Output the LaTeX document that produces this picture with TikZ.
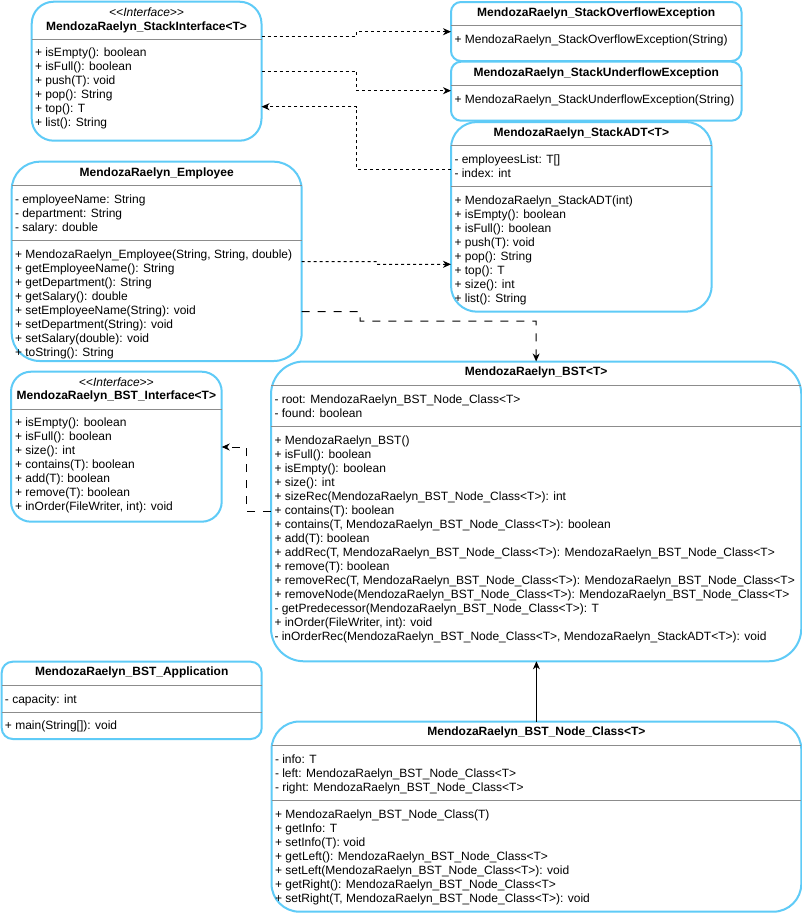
\documentclass[tikz,border=0pt]{standalone}
\usepackage{fontspec}
\setmainfont{Liberation Sans}
\usetikzlibrary{arrows.meta}
\definecolor{umlblue}{HTML}{5FCBF7}
\definecolor{sepgray}{HTML}{8C8C8C}
\tikzset{
  umlbox/.style={draw=umlblue, line width=2pt, fill=white, inner sep=0pt, outer sep=0pt},
  sepline/.style={draw=sepgray, line width=0.9pt},
  txt/.style={inner sep=0pt, outer sep=0pt, font=\fontsize{12}{14}\selectfont, anchor=base west},
  ttl/.style={inner sep=0pt, outer sep=0pt, font=\fontsize{12}{14}\selectfont\bfseries, anchor=base},
  stereo/.style={inner sep=0pt, outer sep=0pt, font=\fontsize{12}{14}\selectfont\itshape, anchor=base},
  tipa/.style={-{Stealth[length=8pt,width=7pt,inset=2.5pt]}},
  dep/.style={draw=black, line width=1pt, dash pattern=on 3pt off 3pt, tipa},
  ldep/.style={draw=black, line width=1pt, dash pattern=on 8pt off 8pt, tipa},
  assoc/.style={draw=black, line width=1pt, tipa}
}
\newcommand{\umllines}[4]{\foreach \t [count=\i] in {#4}{\node[txt] (#1-\i) at ({#2},{#3+14*(\i-1)}) {\t};}}
\begin{document}
\begin{tikzpicture}[x=1pt,y=-1pt]
\useasboundingbox (0,0) rectangle (802,913);
\fill[white] (0,0) rectangle (802,913);

% ---------- boxes ----------
\node[umlbox, rounded corners=22pt, minimum width=229.8pt, minimum height=139pt] (si) at (146.6,71.2) {};
\node[umlbox, rounded corners=10pt, minimum width=290.5pt, minimum height=59pt] (ov) at (596.25,31.5) {};
\node[umlbox, rounded corners=10pt, minimum width=290.5pt, minimum height=59pt] (un) at (596.25,91.2) {};
\node[umlbox, rounded corners=26pt, minimum width=260.7pt, minimum height=189.7pt] (adt) at (581.35,216.85) {};
\node[umlbox, rounded corners=28pt, minimum width=290pt, minimum height=199.3pt] (emp) at (156.7,261.35) {};
\node[umlbox, rounded corners=20pt, minimum width=210.7pt, minimum height=150pt] (bsti) at (116.35,446.7) {};
\node[umlbox, rounded corners=33pt, minimum width=530.3pt, minimum height=299.8pt] (bst) at (536.15,511.4) {};
\node[umlbox, rounded corners=11pt, minimum width=260pt, minimum height=77.3pt] (app) at (131.7,700.35) {};
\node[umlbox, rounded corners=28pt, minimum width=529.8pt, minimum height=190.2pt] (nc) at (536.4,816.6) {};

% ---------- separators ----------
\draw[sepline] (31.7,39.3) -- (261.5,39.3);
\draw[sepline] (451,25) -- (741.5,25);
\draw[sepline] (451,85.3) -- (741.5,85.3);
\draw[sepline] (451,145.7) -- (711.7,145.7);
\draw[sepline] (451,186.7) -- (711.7,186.7);
\draw[sepline] (11.7,185) -- (301.7,185);
\draw[sepline] (11.7,240) -- (301.7,240);
\draw[sepline] (11,409.3) -- (221.7,409.3);
\draw[sepline] (271,385.7) -- (801.3,385.7);
\draw[sepline] (271,426) -- (801.3,426);
\draw[sepline] (1.7,685.7) -- (261.7,685.7);
\draw[sepline] (1.7,712.3) -- (261.7,712.3);
\draw[sepline] (271.5,745) -- (801.3,745);
\draw[sepline] (271.5,800) -- (801.3,800);

% ---------- StackInterface ----------
\node[stereo] (si-s) at (146.6,16.7) {<{}<Interface>{}>};
\node[ttl] (si-t) at (146.6,30.7) {MendozaRaelyn\_StackInterface<T>};
\umllines{si-m}{35}{56.7}{{+ isEmpty(): boolean},{+ isFull(): boolean},{+ push(T): void},{+ pop(): String},{+ top(): T},{+ list(): String}}

% ---------- Overflow / Underflow ----------
\node[ttl] (ov-t) at (596.25,16) {MendozaRaelyn\_StackOverflowException};
\node[txt] (ov-m) at (454.5,43.3) {+ MendozaRaelyn\_StackOverflowException(String)};
\node[ttl] (un-t) at (596.25,76) {MendozaRaelyn\_StackUnderflowException};
\node[txt] (un-m) at (454.5,103.3) {+ MendozaRaelyn\_StackUnderflowException(String)};

% ---------- StackADT ----------
\node[ttl] (adt-t) at (581.35,136) {MendozaRaelyn\_StackADT<T>};
\umllines{adt-f}{454.5}{163.5}{{- employeesList: T[]},{- index: int}}
\umllines{adt-m}{454.5}{204}{{+ MendozaRaelyn\_StackADT(int)},{+ isEmpty(): boolean},{+ isFull(): boolean},{+ push(T): void},{+ pop(): String},{+ top(): T},{+ size(): int},{+ list(): String}}

% ---------- Employee ----------
\node[ttl] (emp-t) at (156.7,176) {MendozaRaelyn\_Employee};
\umllines{emp-f}{15}{203}{{- employeeName: String},{- department: String},{- salary: double}}
\umllines{emp-m}{15}{258.3}{{+ MendozaRaelyn\_Employee(String, String, double)},{+ getEmployeeName(): String},{+ getDepartment(): String},{+ getSalary(): double},{+ setEmployeeName(String): void},{+ setDepartment(String): void},{+ setSalary(double): void},{+ toString(): String}}

% ---------- BST_Interface ----------
\node[stereo] (bsti-s) at (116.35,386) {<{}<Interface>{}>};
\node[ttl] (bsti-t) at (116.35,399.7) {MendozaRaelyn\_BST\_Interface<T>};
\umllines{bsti-m}{15}{426.7}{{+ isEmpty(): boolean},{+ isFull(): boolean},{+ size(): int},{+ contains(T): boolean},{+ add(T): boolean},{+ remove(T): boolean},{+ inOrder(FileWriter, int): void}}

% ---------- BST ----------
\node[ttl] (bst-t) at (536.15,375.7) {MendozaRaelyn\_BST<T>};
\umllines{bst-f}{274.5}{403}{{- root: MendozaRaelyn\_BST\_Node\_Class<T>},{- found: boolean}}
\umllines{bst-m}{274.5}{444}{{+ MendozaRaelyn\_BST()},{+ isFull(): boolean},{+ isEmpty(): boolean},{+ size(): int},{+ sizeRec(MendozaRaelyn\_BST\_Node\_Class<T>): int},{+ contains(T): boolean},{+ contains(T, MendozaRaelyn\_BST\_Node\_Class<T>): boolean},{+ add(T): boolean},{+ addRec(T, MendozaRaelyn\_BST\_Node\_Class<T>): MendozaRaelyn\_BST\_Node\_Class<T>},{+ remove(T): boolean},{+ removeRec(T, MendozaRaelyn\_BST\_Node\_Class<T>): MendozaRaelyn\_BST\_Node\_Class<T>},{+ removeNode(MendozaRaelyn\_BST\_Node\_Class<T>): MendozaRaelyn\_BST\_Node\_Class<T>},{- getPredecessor(MendozaRaelyn\_BST\_Node\_Class<T>): T},{+ inOrder(FileWriter, int): void},{- inOrderRec(MendozaRaelyn\_BST\_Node\_Class<T>, MendozaRaelyn\_StackADT<T>): void}}

% ---------- Application ----------
\node[ttl] (app-t) at (131.7,675.7) {MendozaRaelyn\_BST\_Application};
\node[txt] (app-f) at (5,703) {- capacity: int};
\node[txt] (app-m) at (5,729) {+ main(String[]): void};

% ---------- Node class ----------
\node[ttl] (nc-t) at (536.4,735.7) {MendozaRaelyn\_BST\_Node\_Class<T>};
\umllines{nc-f}{275}{763.3}{{- info: T},{- left: MendozaRaelyn\_BST\_Node\_Class<T>},{- right: MendozaRaelyn\_BST\_Node\_Class<T>}}
\umllines{nc-m}{275}{818}{{+ MendozaRaelyn\_BST\_Node\_Class(T)},{+ getInfo: T},{+ setInfo(T): void},{+ getLeft(): MendozaRaelyn\_BST\_Node\_Class<T>},{+ setLeft(MendozaRaelyn\_BST\_Node\_Class<T>): void},{+ getRight(): MendozaRaelyn\_BST\_Node\_Class<T>},{+ setRight(T, MendozaRaelyn\_BST\_Node\_Class<T>): void}}

% ---------- connectors ----------
\draw[dep] ([yshift=-34.3pt]si.north east) -- (356.7,36) -- (356.7,31.7) -- ([yshift=-29.7pt]ov.north west);
\draw[dep] ([yshift=-69.3pt]si.north east) -- (356.7,71) -- (356.7,90.7) -- ([yshift=-29pt]un.north west);
\draw[dep] ([yshift=-47pt]adt.north west) -- (356.7,169) -- (356.7,106.7) -- ([yshift=-105pt]si.north east);
\draw[dep] ([yshift=-100pt]emp.north east) -- (376.7,261.7) -- (376.7,264.3) -- ([yshift=-142.3pt]adt.north west);
\draw[ldep] ([yshift=-150pt]emp.north east) -- (360,311.7) -- (360,321) -- (536.15,321) -- (bst.north);
\draw[ldep] ([yshift=-150.2pt]bst.north west) -- (246.7,511.7) -- (246.7,447) -- ([yshift=-75.3pt]bsti.north east);
\draw[assoc] (nc.north) -- (nc.north |- bst.south);
\end{tikzpicture}
\end{document}
